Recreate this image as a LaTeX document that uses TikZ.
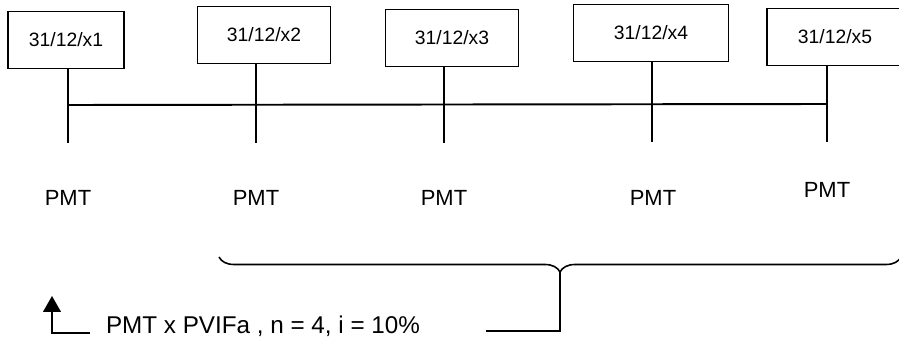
\documentclass[tikz,border=0pt]{standalone}
\usepackage{fontspec}
\setmainfont{Liberation Sans}
\usetikzlibrary{arrows.meta,decorations.pathreplacing}

\begin{document}
\begin{tikzpicture}[x=0.02cm, y=-0.02cm,
        date/.style={draw, line width=1.1pt, minimum height=1.14cm, inner sep=0pt, font=\fontsize{11}{13}\selectfont},
        pay/.style={font=\fontsize{12.5}{14}\selectfont},
        tick/.style={line width=1.1pt},
        arrow/.style={-{Triangle[length=9pt,width=10pt]}, line width=1.1pt}
    ]
    \useasboundingbox (0,0) rectangle (899,341);
    % dates
    \node[date, minimum width=2.32cm] (d1) at (66,40) {31/12/x1};
    \node[date, minimum width=2.66cm] (d2) at (264,35) {31/12/x2};
    \node[date, minimum width=2.66cm] (d3) at (452,38) {31/12/x3};
    \node[date, minimum width=3.1cm] (d4) at (651,33) {31/12/x4};
    \node[date, minimum width=2.72cm] (d5) at (835,37) {31/12/x5};
    % time line
    \coordinate (t1) at (68,143);
    \coordinate (t2) at (256,143);
    \coordinate (t3) at (444,143);
    \coordinate (t4) at (652,142);
    \coordinate (t5) at (827,142);
    \foreach \i in {1,...,5}
        \draw[tick] (t\i |- d\i.south) -- (t\i);
    \coordinate (h1) at (68,105);
    \coordinate (h5) at (827,104);
    \draw[tick] (h1) -- (h5);
    % payments
    \node[pay] (p1) at (68,198) {PMT};
    \node[pay] (p2) at (256,198) {PMT};
    \node[pay] (p3) at (444,198) {PMT};
    \node[pay] (p4) at (653,198) {PMT};
    \node[pay] (p5) at (827,190) {PMT};
    % brace over the last four
    \coordinate (b1) at (219,257);
    \coordinate (b2) at (901,257);
    \draw[tick, line width=0.9pt, decorate, decoration={brace, mirror, amplitude=0.3cm, aspect=0.5}] (b1) -- (b2);
    \coordinate (tip) at (560,272);
    \coordinate (r) at (486,331);
    \draw[tick] (tip) |- (r);
    % formula
    \node[pay, font=\fontsize{13.8}{16}\selectfont] (f) at (263,326) {PMT x PVIFa , n = 4, i = 10\%};
    \coordinate (a0) at (90,333);
    \coordinate (a1) at (52,296);
    \draw[arrow] (a0) -| (a1);
\end{tikzpicture}
\end{document}
